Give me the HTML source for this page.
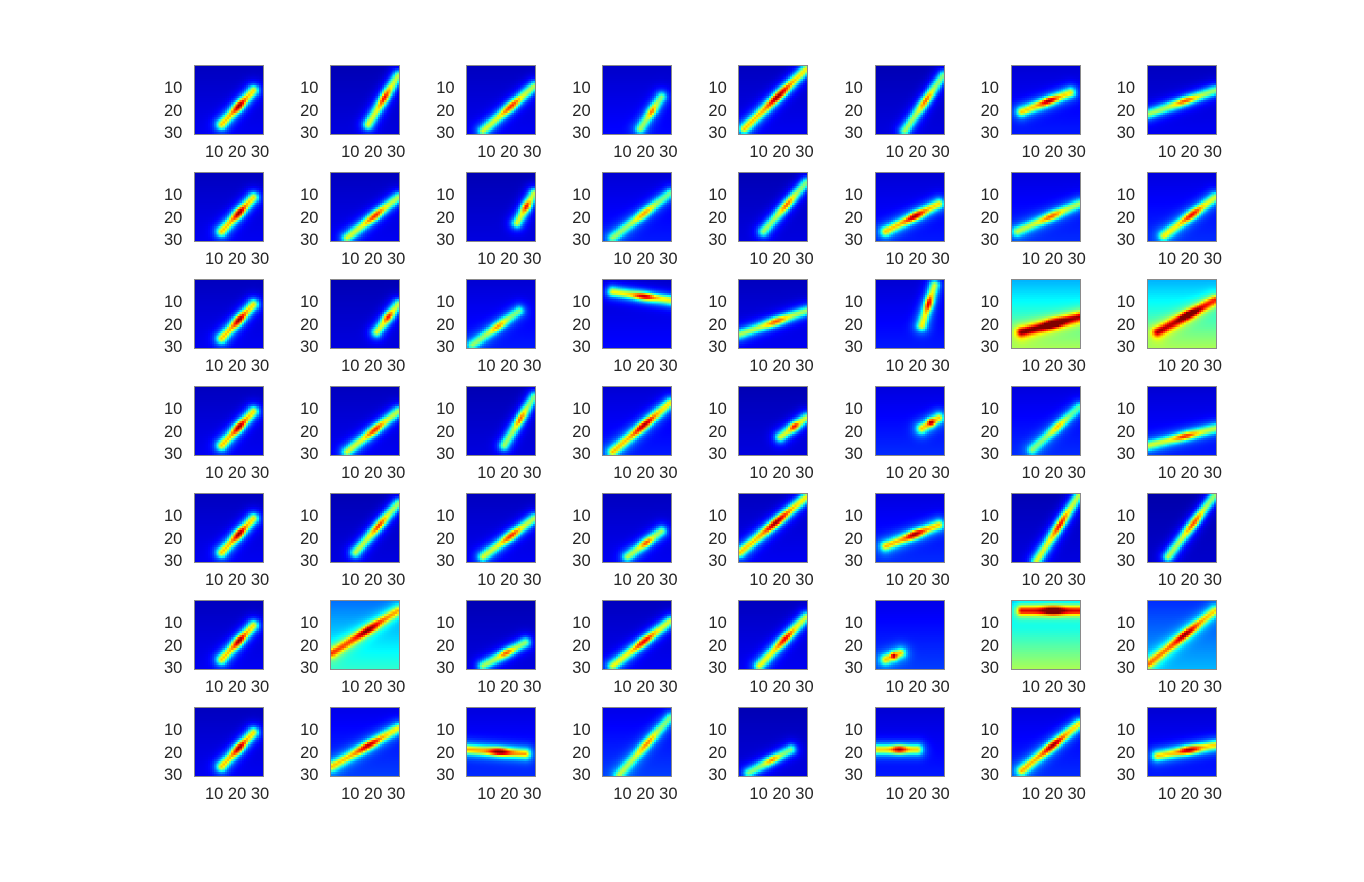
<!DOCTYPE html>
<html><head><meta charset="utf-8">
<style>
body{margin:0;background:#fff;width:1364px;height:882px;position:relative;overflow:hidden;font-family:"Liberation Sans",sans-serif;}
.ax{position:absolute;width:70px;height:70px;border:1px solid #8a8a8a;box-sizing:border-box;}
.ax canvas{width:68px;height:68px;display:block;image-rendering:pixelated;}
.tk{position:absolute;font-size:16.5px;color:#262626;line-height:16px;}
</style></head><body>
<div id="root"></div>
<script>
// per-panel streak data (grid units 1..32), row-major 7 rows x 8 cols
const x0=[13,18,8,18,3,14,5,1, 13,8,24,5,12,5,3,8, 13,22,3,5,1,22,5,5, 13,8,18,5,20,22,10,1, 13,12,8,12,1,5,12,10, 13,1,8,5,10,5,5,1, 13,1,1,8,5,1,5,5];
const y0=[28,28,31,30,30,31,22,23, 28,31,24,31,28,28,28,30, 28,25,31,6,26,22,25,25, 28,31,28,31,24,20,30,28, 28,28,30,30,28,25,32,30, 28,25,31,31,31,28,5,30, 28,28,20,32,31,20,30,23];
const x1=[28,32,32,28,32,32,28,32, 28,32,32,32,32,30,32,32, 28,32,25,32,32,28,32,32, 28,32,32,32,32,30,32,32, 28,32,32,28,32,30,32,32, 28,32,28,32,32,12,32,32, 28,32,28,32,25,20,32,32];
const y1=[12,5,10,15,2,5,13,12, 12,12,10,10,5,15,15,12, 12,12,15,10,15,3,18,10, 12,12,5,8,15,15,10,20, 12,5,12,18,2,15,1,1, 12,5,20,10,8,25,5,5, 12,10,22,5,20,20,8,18];
const peak=[.9,.8,.75,.65,.9,.7,.85,.7, .9,.75,.8,.6,.7,.85,.65,.75, .9,.8,.6,.85,.7,.8,.85,.75, .9,.75,.7,.85,.8,.85,.55,.7, .9,.75,.75,.7,.9,.85,.8,.75, .9,.7,.7,.8,.8,.8,.9,.75, .9,.8,.9,.6,.65,.85,.85,.85];
const base=[.2,.15,.2,.25,.2,.15,.3,.2, .2,.2,.15,.3,.15,.3,.35,.35, .2,.15,.3,.25,.2,.3,.55,.55, .2,.2,.15,.3,.15,.35,.35,.3, .2,.15,.2,.2,.2,.35,.15,.1, .2,.5,.15,.2,.2,.4,.55,.45, .2,.4,.35,.4,.15,.3,.35,.3];
const yTicks=["10","20","30"];
const xTicks=["10 20 30"];
function jet(v){v=Math.max(0,Math.min(1,v));
 const r=Math.max(0,Math.min(1,1.5-Math.abs(4*v-3))),g=Math.max(0,Math.min(1,1.5-Math.abs(4*v-2))),b=Math.max(0,Math.min(1,1.5-Math.abs(4*v-1)));
 return [r*255|0,g*255|0,b*255|0];}
const root=document.getElementById('root');
for(let i=0;i<56;i++){
 const r=Math.floor(i/8),c=i%8;
 const L=194+c*136.1,T=65+r*107;
 const ax=document.createElement('div');ax.className='ax';
 
 
 ax.style.left=L+'px';ax.style.top=T+'px';
 const cv=document.createElement('canvas');cv.width=32;cv.height=32;
 
 
 const ctx=cv.getContext('2d');const im=ctx.createImageData(32,32);
 const ax0=x0[i],ay0=y0[i],dx=x1[i]-ax0,dy=y1[i]-ay0,len2=dx*dx+dy*dy;
 const b=base[i],bv=0.04+0.36*b+2*Math.max(0,b-0.4);
 for(let y=1;y<=32;y++)for(let x=1;x<=32;x++){
  let t=((x-ax0)*dx+(y-ay0)*dy)/len2;t=Math.max(0,Math.min(1,t));
  const px=ax0+t*dx,py=ay0+t*dy,d2=(x-px)**2+(y-py)**2;
  const prof=0.55+0.45*Math.exp(-((t-0.55)**2)/0.03);
  const v=bv*(0.55+0.45*(y/32))+0.8*peak[i]*prof*Math.exp(-d2/4)+0.2*peak[i]*Math.exp(-d2/18);
  const col=jet(v);const k=((y-1)*32+(x-1))*4;
  im.data[k]=col[0];im.data[k+1]=col[1];im.data[k+2]=col[2];im.data[k+3]=255;}
 ctx.putImageData(im,0,0);ax.appendChild(cv);root.appendChild(ax);
 yTicks.forEach((t,j)=>{const s=document.createElement('div');s.className='tk';s.textContent=t;
  
  
  s.style.left=(L-30)+'px';s.style.top=(T+15+j*22.5)+'px';root.appendChild(s);});
 const s=document.createElement('div');s.className='tk';s.textContent=xTicks[0];
 
 
 s.style.left=(L+11)+'px';s.style.top=(T+79)+'px';root.appendChild(s);
}
</script>
</body></html>
